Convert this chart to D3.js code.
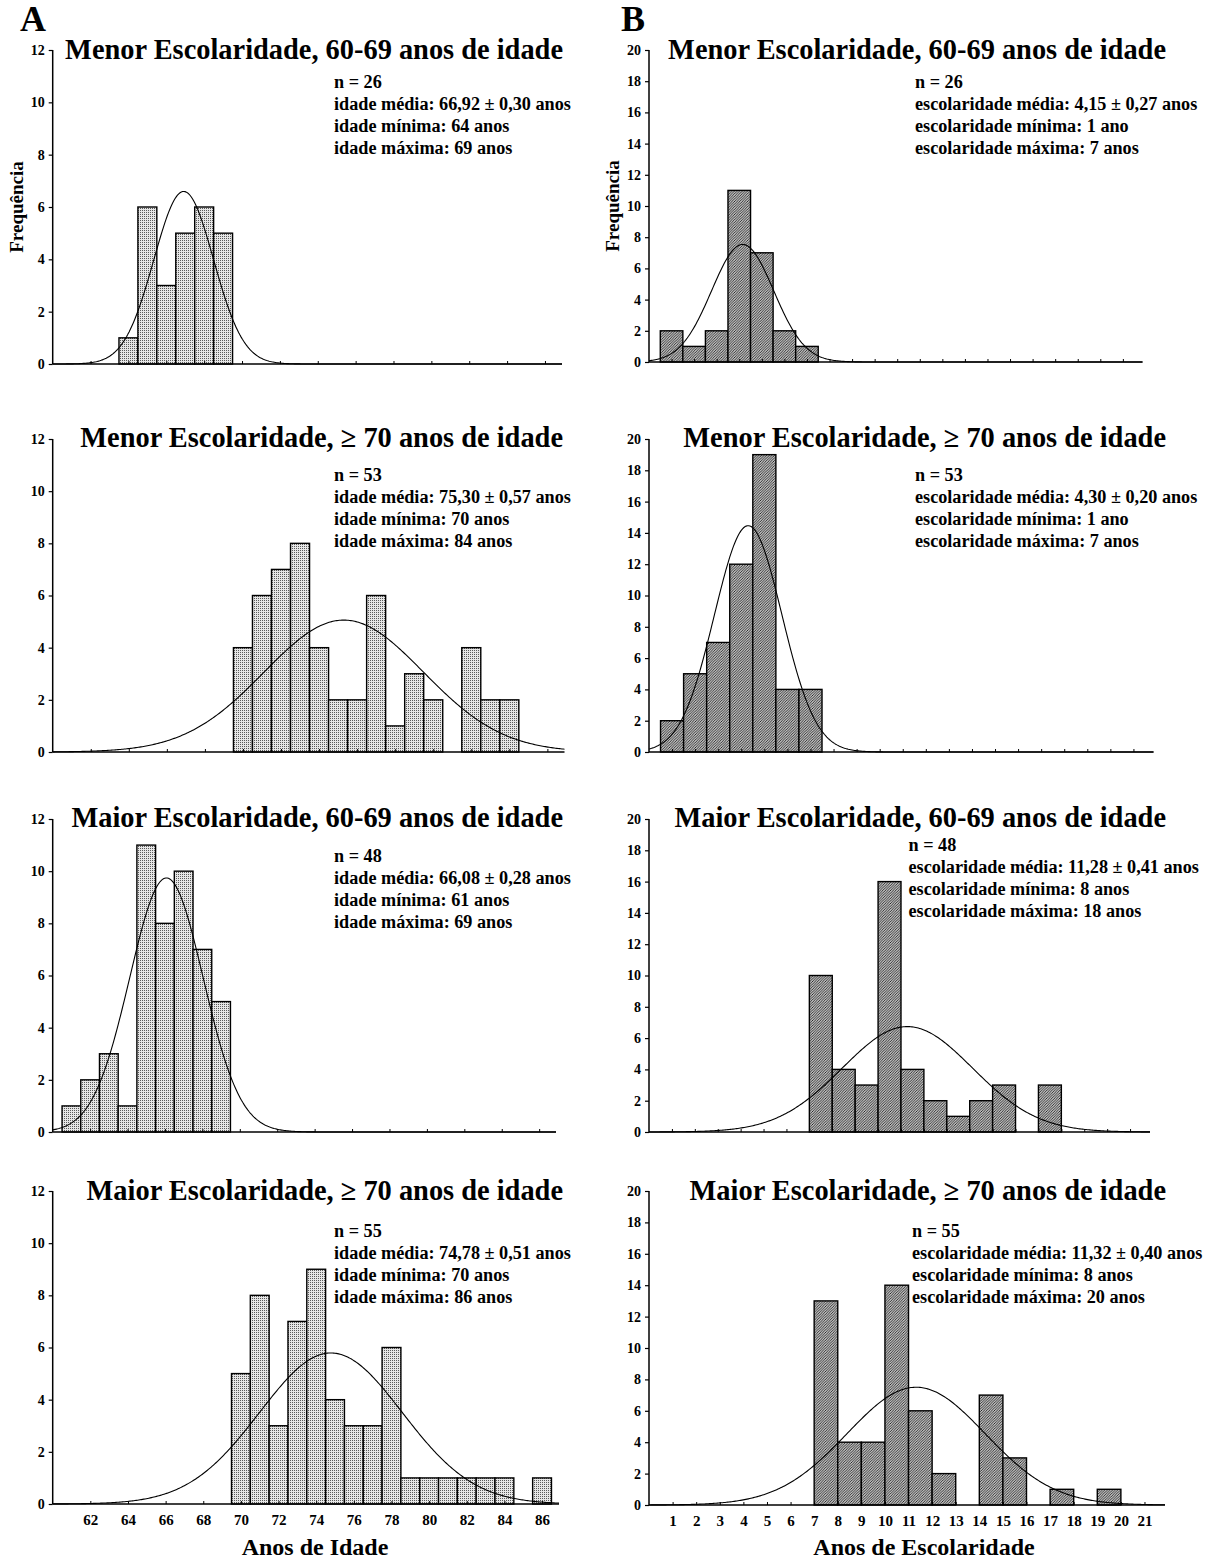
<!DOCTYPE html>
<html>
<head>
<meta charset="utf-8">
<script src="https://cdn.jsdelivr.net/npm/d3@7"></script>
<style>
  body { margin: 0; background: #fff; }
  svg { display: block; }
  text { font-family: "Liberation Serif", "Times New Roman", serif; font-weight: bold; fill: #000; }
</style>
</head>
<body>
<svg id="fig" width="1212" height="1560"></svg>
<script>
// ---- Column A: age distributions (years of age → frequency) ----
const ageBinsMenor6069 = [64, 65, 66, 67, 68, 69];
const ageCountsMenor6069 = [1, 6, 3, 5, 6, 5];
const ageBinsMenor70 = [70, 71, 72, 73, 74, 75, 76, 77, 78, 79, 80, 81, 82, 83, 84];
const ageCountsMenor70 = [4, 6, 7, 8, 4, 2, 2, 6, 1, 3, 2, 0, 4, 2, 2];
const ageBinsMaior6069 = [61, 62, 63, 64, 65, 66, 67, 68, 69];
const ageCountsMaior6069 = [1, 2, 3, 1, 11, 8, 10, 7, 5];
const ageBinsMaior70 = [70, 71, 72, 73, 74, 75, 76, 77, 78, 79, 80, 81, 82, 83, 84, 85, 86];
const ageCountsMaior70 = [5, 8, 3, 7, 9, 4, 3, 3, 6, 1, 1, 1, 1, 1, 1, 0, 1];

const ageMeans = [66.92, 75.30, 66.08, 74.78];
const ageSEs = [0.30, 0.57, 0.28, 0.51];

// ---- Column B: schooling distributions (years of schooling → frequency) ----
const schoolBinsMenor6069 = [1, 2, 3, 4, 5, 6, 7];
const schoolCountsMenor6069 = [2, 1, 2, 11, 7, 2, 1];
const schoolBinsMenor70 = [1, 2, 3, 4, 5, 6, 7];
const schoolCountsMenor70 = [2, 5, 7, 12, 19, 4, 4];
const schoolBinsMaior6069 = [8, 9, 10, 11, 12, 13, 14, 15, 16, 17, 18];
const schoolCountsMaior6069 = [10, 4, 3, 16, 4, 2, 1, 2, 3, 0, 3];
const schoolBinsMaior70 = [8, 9, 10, 11, 12, 13, 14, 15, 16, 17, 18, 19, 20];
const schoolCountsMaior70 = [13, 4, 4, 14, 6, 2, 0, 7, 3, 0, 1, 0, 1];

const schoolMeans = [4.15, 4.30, 11.28, 11.32];
const schoolSEs = [0.27, 0.20, 0.41, 0.40];

// ---- Titles and tick labels ----
const panelTitles = [
  "Menor Escolaridade, 60-69 anos de idade",
  "Menor Escolaridade, \u2265 70 anos de idade",
  "Maior Escolaridade, 60-69 anos de idade",
  "Maior Escolaridade, \u2265 70 anos de idade"
];
const ageXTicks = [62, 64, 66, 68, 70, 72, 74, 76, 78, 80, 82, 84, 86];
const schoolXTicks = [1, 2, 3, 4, 5, 6, 7, 8, 9, 10, 11, 12, 13, 14, 15, 16, 17, 18, 19, 20, 21];
const ageYTicks = [0, 2, 4, 6, 8, 10, 12];
const schoolYTicks = [0, 2, 4, 6, 8, 10, 12, 14, 16, 18, 20];
const yAxisTitle = "Frequência";
const ageAxisTitle = "Anos de Idade";
const schoolAxisTitle = "Anos de Escolaridade";

// ---- Layout ----
const colA = { x0: 52.7, domain: [60, 86.9], yMax: 12, titleRight: 563, letter: "A", letterX: 20, axisTitleX: 315 };
const colB = { x0: 649, domain: [0, 21.87], yMax: 20, titleRight: 1166, letter: "B", letterX: 621, axisTitleX: 924 };
const rowsA = [
  { top: 50,   bottom: 364,  end: 562,   titleY: 58.5,   statsX: 334, statsY: 88 },
  { top: 439,  bottom: 752,  end: 564.5, titleY: 447,    statsX: 334, statsY: 481 },
  { top: 819,  bottom: 1132, end: 556,   titleY: 827,    statsX: 334, statsY: 862 },
  { top: 1191, bottom: 1504, end: 559,   titleY: 1199.5, statsX: 334, statsY: 1237 }
];
const rowsB = [
  { top: 50,   bottom: 362,  end: 1142.5, titleY: 58.5,   statsX: 915,   statsY: 88 },
  { top: 439,  bottom: 752,  end: 1153.5, titleY: 446.5,  statsX: 915,   statsY: 481 },
  { top: 819,  bottom: 1132, end: 1150,   titleY: 827,    statsX: 908.5, statsY: 851 },
  { top: 1191, bottom: 1505, end: 1165,   titleY: 1199.5, statsX: 912,   statsY: 1237 }
];

const fmt2 = d3.formatLocale({ decimal: ",", thousands: ".", grouping: [3], currency: ["", ""] }).format(".2f");

const svg = d3.select("#fig");
const defs = svg.append("defs");

// fine stipple used for the age bars
const dots = defs.append("pattern").attr("id", "dots")
  .attr("patternUnits", "userSpaceOnUse").attr("width", 2).attr("height", 2);
dots.append("rect").attr("width", 2).attr("height", 2).attr("fill", "#e6e6e6");
dots.append("rect").attr("width", 1).attr("height", 1).attr("fill", "#5a5a5a");

// dense diagonal hatching used for the schooling bars
const hatch = defs.append("pattern").attr("id", "hatch")
  .attr("patternUnits", "userSpaceOnUse").attr("width", 2.6).attr("height", 2.6);
hatch.append("rect").attr("width", 2.6).attr("height", 2.6).attr("fill", "#f4f4f4");
hatch.append("path").attr("d", "M-1,1 L1,-1 M0,2.6 L2.6,0 M1.6,3.6 L3.6,1.6")
  .attr("stroke", "#1a1a1a").attr("stroke-width", 0.88);

function normalPdf(x, m, s) {
  return Math.exp(-0.5 * ((x - m) / s) ** 2) / (s * Math.sqrt(2 * Math.PI));
}

function drawPanel(col, row, opts) {
  const { bins, counts, mean, title, fill, binShift, statsLines, xTicks, yTicks, showXLabels, showYTitle, axisTitle } = opts;
  const g = svg.append("g");
  const x = d3.scaleLinear().domain(col.domain).range([col.x0, row.end]);
  const y = d3.scaleLinear().domain([0, col.yMax]).range([row.bottom, row.top]);

  // bars
  const data = bins.map((b, i) => ({ v: b, c: counts[i] })).filter(d => d.c > 0);
  g.append("g").selectAll("rect").data(data).join("rect")
    .attr("x", d => x(d.v - 0.5 + binShift))
    .attr("width", d => x(d.v + 0.5 + binShift) - x(d.v - 0.5 + binShift))
    .attr("y", d => y(d.c))
    .attr("height", d => y(0) - y(d.c))
    .attr("fill", fill)
    .attr("stroke", "#000").attr("stroke-width", 1.4);

  // fitted normal curve (mean from the label, spread from the binned data)
  const n = d3.sum(counts);
  const sd = Math.sqrt(d3.sum(bins, (b, i) => counts[i] * (b - mean) ** 2) / (n - 1));
  const xs = d3.range(0, 401).map(k => col.domain[0] + (col.domain[1] - col.domain[0]) * k / 400);
  const line = d3.line().x(d => x(d)).y(d => y(n * normalPdf(d, mean, sd)));
  g.append("path").datum(xs).attr("d", line)
    .attr("fill", "none").attr("stroke", "#000").attr("stroke-width", 1.1);

  // y axis
  const yAxis = d3.axisLeft(y).tickValues(yTicks).tickSize(4).tickPadding(4).tickFormat(d3.format("d"));
  const ya = g.append("g").attr("transform", `translate(${col.x0},0)`).call(yAxis);
  ya.select(".domain").attr("d", `M0,${row.top}V${row.bottom}`).attr("stroke-width", 1.5);
  ya.selectAll(".tick line").attr("stroke-width", 1.2);
  ya.selectAll("text").style("font-size", "14px");

  // x axis
  const xAxis = d3.axisBottom(x).tickValues(xTicks).tickSize(-3).tickPadding(10)
    .tickFormat(showXLabels ? d3.format("d") : () => "");
  const xa = g.append("g").attr("transform", `translate(0,${row.bottom})`).call(xAxis);
  xa.select(".domain").attr("d", `M${col.x0},0H${row.end}`).attr("stroke-width", 1.6);
  xa.selectAll("text").style("font-size", "15px");

  // title
  g.append("text").attr("x", col.titleRight).attr("y", row.titleY)
    .attr("text-anchor", "end").style("font-size", "28.4px").text(title);

  // summary statistics
  g.append("g").selectAll("text").data(statsLines).join("text")
    .attr("x", row.statsX).attr("y", (d, i) => row.statsY + i * 22)
    .style("font-size", "18.2px").text(d => d);

  if (showYTitle) {
    g.append("text")
      .attr("transform", `translate(${col.x0 - 30},${(row.top + row.bottom) / 2}) rotate(-90)`)
      .attr("text-anchor", "middle").style("font-size", "19px").text(yAxisTitle);
  }
  if (axisTitle) {
    g.append("text").attr("x", col.axisTitleX).attr("y", 1555)
      .attr("text-anchor", "middle").style("font-size", "24px").text(axisTitle);
  }
}

const ageSets = [
  [ageBinsMenor6069, ageCountsMenor6069],
  [ageBinsMenor70, ageCountsMenor70],
  [ageBinsMaior6069, ageCountsMaior6069],
  [ageBinsMaior70, ageCountsMaior70]
];
const schoolSets = [
  [schoolBinsMenor6069, schoolCountsMenor6069],
  [schoolBinsMenor70, schoolCountsMenor70],
  [schoolBinsMaior6069, schoolCountsMaior6069],
  [schoolBinsMaior70, schoolCountsMaior70]
];
// the higher-schooling histograms place each bar to the left of its tick
const schoolShift = [0, 0, -0.5, -0.5];

function rangeOf(bins, counts) {
  const present = bins.filter((b, i) => counts[i] > 0);
  return [d3.min(present), d3.max(present)];
}

ageSets.forEach(([bins, counts], i) => {
  const n = d3.sum(counts);
  const [lo, hi] = rangeOf(bins, counts);
  drawPanel(colA, rowsA[i], {
    bins, counts, mean: ageMeans[i], title: panelTitles[i],
    fill: "url(#dots)", binShift: 0,
    statsLines: [
      `n = ${n}`,
      `idade média: ${fmt2(ageMeans[i])} ± ${fmt2(ageSEs[i])} anos`,
      `idade mínima: ${lo} anos`,
      `idade máxima: ${hi} anos`
    ],
    xTicks: ageXTicks, yTicks: ageYTicks,
    showXLabels: i === 3, showYTitle: i === 0, axisTitle: i === 3 ? ageAxisTitle : null
  });
});

schoolSets.forEach(([bins, counts], i) => {
  const n = d3.sum(counts);
  const [lo, hi] = rangeOf(bins, counts);
  const yrs = v => v === 1 ? `${v} ano` : `${v} anos`;
  drawPanel(colB, rowsB[i], {
    bins, counts, mean: schoolMeans[i], title: panelTitles[i],
    fill: "url(#hatch)", binShift: schoolShift[i],
    statsLines: [
      `n = ${n}`,
      `escolaridade média: ${fmt2(schoolMeans[i])} ± ${fmt2(schoolSEs[i])} anos`,
      `escolaridade mínima: ${yrs(lo)}`,
      `escolaridade máxima: ${yrs(hi)}`
    ],
    xTicks: schoolXTicks, yTicks: schoolYTicks,
    showXLabels: i === 3, showYTitle: i === 0, axisTitle: i === 3 ? schoolAxisTitle : null
  });
});

// column letters
[colA, colB].forEach(c => {
  svg.append("text").attr("x", c.letterX).attr("y", 31).style("font-size", "36px").text(c.letter);
});
</script>
</body>
</html>
